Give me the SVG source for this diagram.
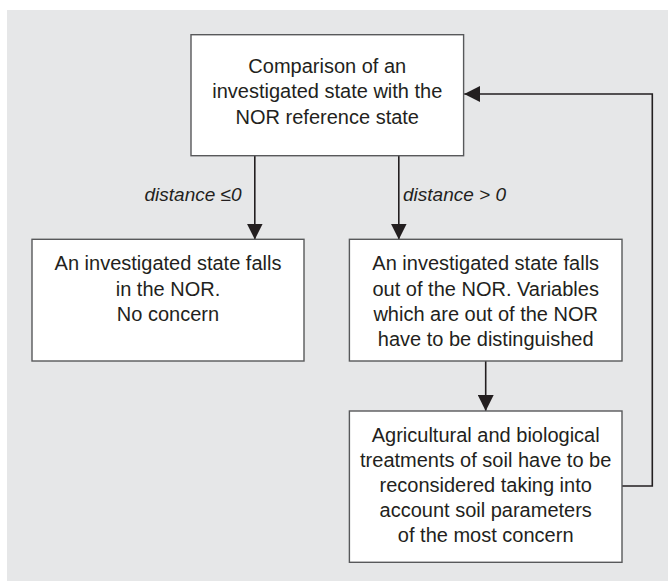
<svg xmlns="http://www.w3.org/2000/svg" width="668" height="581" viewBox="0 0 668 581">
<defs>
<style>
.bg{fill:#e6e7e8}
.box{fill:#ffffff;stroke:#58595b;stroke-width:1.4}
.t{font-family:"Liberation Sans",Arial,sans-serif;font-size:20px;fill:#231f20;text-anchor:middle}
.lbl{font-family:"Liberation Sans",Arial,sans-serif;font-size:19px;font-style:italic;fill:#231f20}
.c{fill:none;stroke:#231f20;stroke-width:1.6}
</style>
<marker id="ah" viewBox="0 0 16 16" refX="16" refY="8" markerWidth="16" markerHeight="16" markerUnits="userSpaceOnUse" orient="auto">
<path d="M0,0 L16,8 L0,16 Z" fill="#231f20"/>
</marker>
</defs>
<rect class="bg" x="7" y="10" width="661" height="571"/>
<g id="connectors">
<line class="c" x1="254.8" y1="156" x2="254.8" y2="239.5" marker-end="url(#ah)"/>
<line class="c" x1="398.8" y1="156" x2="398.8" y2="239.5" marker-end="url(#ah)"/>
<line class="c" x1="485.7" y1="361" x2="485.7" y2="411" marker-end="url(#ah)"/>
<polyline class="c" points="622,486 652.3,486 652.3,94 464.2,94" marker-end="url(#ah)"/>
<text class="lbl" x="241.6" y="200.5" text-anchor="end">distance ≤0</text>
<text class="lbl" x="403" y="200.5">distance &gt; 0</text>
</g>
<g id="n_compare">
<rect class="box" x="191" y="34.7" width="272.6" height="121"/>
<text class="t" x="327.3" y="72.5">Comparison of an</text>
<text class="t" x="327.3" y="98">investigated state with the</text>
<text class="t" x="327.3" y="123.5">NOR reference state</text>
</g>
<g id="n_in">
<rect class="box" x="32" y="239.3" width="272" height="121.7"/>
<text class="t" x="168" y="270">An investigated state falls</text>
<text class="t" x="168" y="295.5">in the NOR.</text>
<text class="t" x="168" y="320.8">No concern</text>
</g>
<g id="n_out">
<rect class="box" x="349.4" y="239.3" width="272.6" height="121.7"/>
<text class="t" x="485.7" y="270">An investigated state falls</text>
<text class="t" x="485.7" y="295.5">out of the NOR. Variables</text>
<text class="t" x="485.7" y="320.8">which are out of the NOR</text>
<text class="t" x="485.7" y="346">have to be distinguished</text>
</g>
<g id="n_treat">
<rect class="box" x="349.4" y="411" width="272.6" height="151.3"/>
<text class="t" x="485.7" y="441.7">Agricultural and biological</text>
<text class="t" x="485.7" y="467">treatments of soil have to be</text>
<text class="t" x="485.7" y="492.3">reconsidered taking into</text>
<text class="t" x="485.7" y="517.3">account soil parameters</text>
<text class="t" x="485.7" y="542.3">of the most concern</text>
</g>
</svg>
